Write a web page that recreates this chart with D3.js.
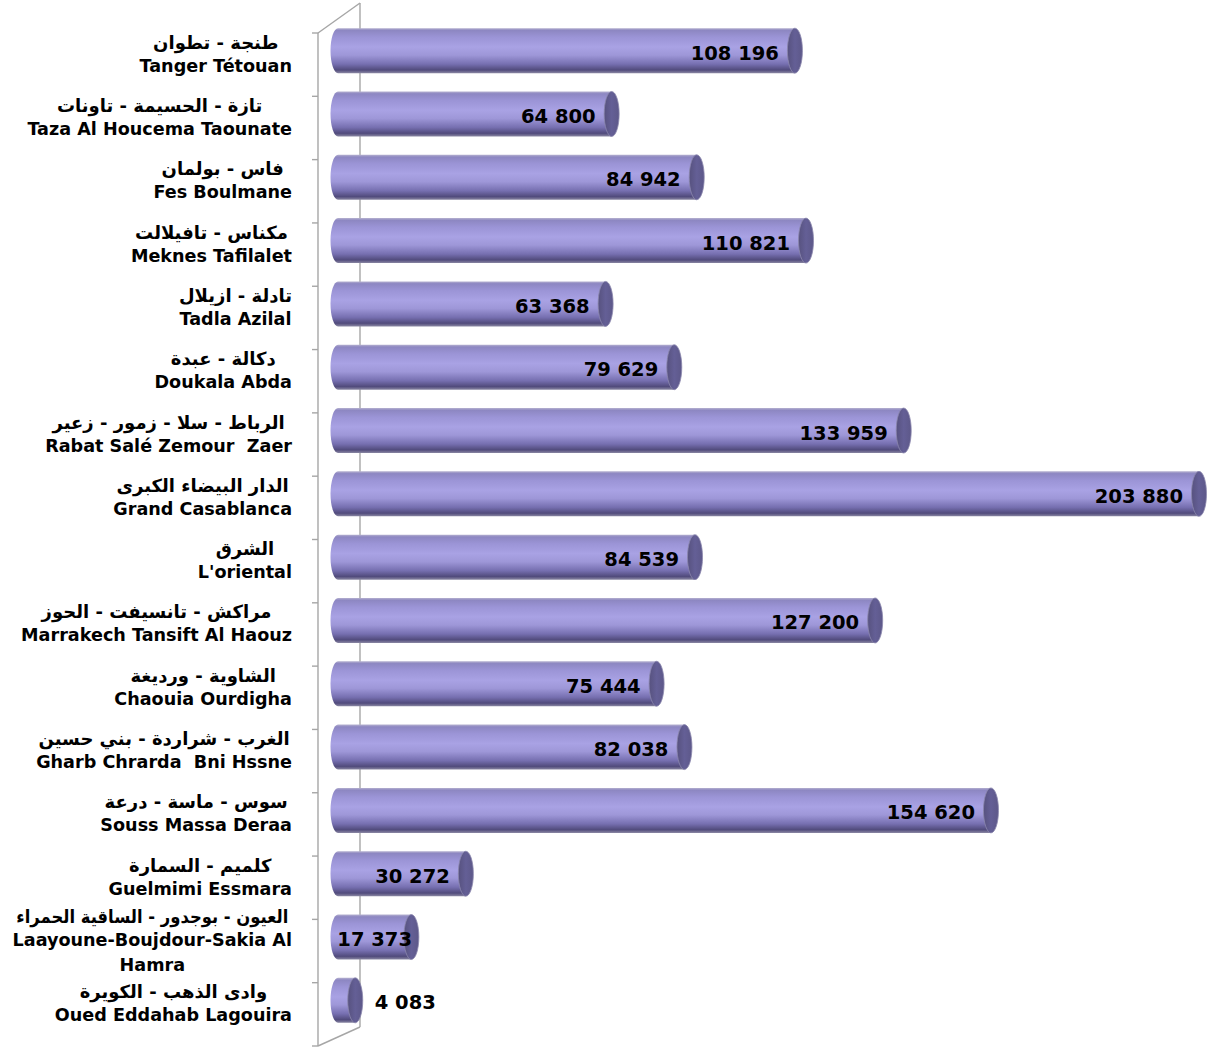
<!DOCTYPE html>
<html>
<head>
<meta charset="utf-8">
<script src="https://cdn.jsdelivr.net/npm/d3@7"></script>
<style>
  html, body { margin: 0; padding: 0; background: #ffffff; }
  svg { display: block; }
  text { white-space: pre; }
</style>
</head>
<body>
<svg id="chart" width="1208" height="1050"></svg>
<script>
const arabicNames = [
  "طنجة - تطوان",
  "تازة - الحسيمة - تاونات",
  "فاس - بولمان",
  "مكناس - تافيلالت",
  "تادلة - ازيلال",
  "دكالة - عبدة",
  "الرباط - سلا - زمور - زعير",
  "الدار البيضاء الكبرى",
  "الشرق",
  "مراكش - تانسيفت - الحوز",
  "الشاوية - ورديغة",
  "الغرب - شراردة - بني حسين",
  "سوس - ماسة - درعة",
  "كلميم - السمارة",
  "العيون - بوجدور - الساقية الحمراء",
  "وادى الذهب - الكويرة"
];
const frenchNames = [
  ["Tanger Tétouan"],
  ["Taza Al Houcema Taounate"],
  ["Fes Boulmane"],
  ["Meknes Tafilalet"],
  ["Tadla Azilal"],
  ["Doukala Abda"],
  ["Rabat Salé Zemour  Zaer"],
  ["Grand Casablanca"],
  ["L'oriental"],
  ["Marrakech Tansift Al Haouz"],
  ["Chaouia Ourdigha"],
  ["Gharb Chrarda  Bni Hssne"],
  ["Souss Massa Deraa"],
  ["Guelmimi Essmara"],
  ["Laayoune-Boujdour-Sakia Al", "Hamra"],
  ["Oued Eddahab Lagouira"]
];
const values = [108196, 64800, 84942, 110821, 63368, 79629, 133959, 203880, 84539, 127200, 75444, 82038, 154620, 30272, 17373, 4083];
const valueLabels = ["108 196", "64 800", "84 942", "110 821", "63 368", "79 629", "133 959", "203 880", "84 539", "127 200", "75 444", "82 038", "154 620", "30 272", "17 373", "4 083"];

const svg = d3.select("#chart");
const idx = d3.range(values.length);

const y = d3.scaleBand().domain(idx).range([33, 1046]).paddingInner(0).paddingOuter(0);
const x = d3.scaleLinear().domain([0, 203880]).range([338, 1199]);
const depthShift = -14; // bars sit deeper in the 3D box, so they appear higher

const defs = svg.append("defs");
const gBody = defs.append("linearGradient").attr("id", "body").attr("x1", 0).attr("y1", 0).attr("x2", 0).attr("y2", 1);
[[0, "#b4b0cf"], [0.05, "#8d87c2"], [0.2, "#9b94d6"], [0.42, "#a9a2e4"], [0.6, "#9e97d8"], [0.8, "#766fb0"], [0.93, "#514b7c"], [1, "#8a87a3"]]
  .forEach(([o, c]) => gBody.append("stop").attr("offset", o).attr("stop-color", c));
const gCap = defs.append("linearGradient").attr("id", "cap").attr("x1", 0).attr("y1", 0).attr("x2", 1).attr("y2", 0);
[[0, "#57527f"], [0.5, "#645f96"], [1, "#5d5889"]]
  .forEach(([o, c]) => gCap.append("stop").attr("offset", o).attr("stop-color", c));

// 3D wall / axis
const wall = svg.append("g").attr("stroke", "#a6a6a6").attr("stroke-width", 1.4).attr("fill", "none");
const yTop = y.range()[0], yBot = y.range()[1];
wall.append("line").attr("x1", 318).attr("y1", yTop).attr("x2", 318).attr("y2", yBot);
wall.append("line").attr("x1", 360).attr("y1", yTop - 30).attr("x2", 360).attr("y2", yBot - 19);
wall.append("line").attr("x1", 318).attr("y1", yTop).attr("x2", 360).attr("y2", yTop - 30);
wall.append("line").attr("x1", 318).attr("y1", yBot).attr("x2", 360).attr("y2", yBot - 19);
const boundaries = idx.map(i => y(i)).concat([yBot]);
wall.selectAll("line.tick").data(boundaries).enter().append("line")
  .attr("class", "tick")
  .attr("x1", 312).attr("x2", 318)
  .attr("y1", d => d).attr("y2", d => d);

// bars
const barH = y.bandwidth() * 0.71;
const ry = barH / 2;
const rx = 7.5;
const bars = svg.append("g");
idx.forEach(i => {
  const cy = y(i) + y.bandwidth() / 2 + depthShift;
  const x0 = x(0), x1 = x(values[i]);
  const top = cy - ry, bot = cy + ry;
  const g = bars.append("g");
  g.append("path")
    .attr("d", `M${x0},${top} L${x1},${top} L${x1},${bot} L${x0},${bot} A${rx},${ry} 0 0 1 ${x0},${top} Z`)
    .attr("fill", "url(#body)");
  g.append("ellipse")
    .attr("cx", x1).attr("cy", cy).attr("rx", rx).attr("ry", ry)
    .attr("fill", "url(#cap)")
    .attr("stroke", "#8c88ad").attr("stroke-width", 0.8);

  const t = g.append("text")
    .attr("y", cy + 9)
    .attr("font-family", "DejaVu Sans")
    .attr("font-weight", "bold")
    .attr("font-size", "19.5px")
    .attr("fill", "#000")
    .text(valueLabels[i]);
  const w = t.node().getComputedTextLength();
  const left = x0 - rx, right = x1 + rx;
  if (x1 - 16 - w >= left + 6) {
    t.attr("x", x1 - 16).attr("text-anchor", "end");
  } else if (w <= right - left) {
    t.attr("x", (left + right) / 2).attr("text-anchor", "middle");
  } else {
    t.attr("x", right + 12).attr("text-anchor", "start");
  }
});

// category labels: lines centred within a block that is right-aligned at the axis
const labels = svg.append("g").attr("font-weight", "bold").attr("fill", "#000");
const labelRight = 292, maxLabelW = 272;
idx.forEach(i => {
  const c = y(i) + y.bandwidth() / 2 + depthShift;
  const nFr = frenchNames[i].length;
  const lh = 25;
  const arY = nFr > 1 ? c - 14 : c - 2;
  const g = labels.append("g");
  const ar = g.append("text")
    .attr("y", arY)
    .attr("text-anchor", "middle")
    .attr("font-family", "DejaVu Sans")
    .attr("font-size", "18px")
    .text(arabicNames[i]);
  let arW = ar.node().getComputedTextLength();
  if (arW > maxLabelW) {
    ar.attr("textLength", maxLabelW).attr("lengthAdjust", "spacingAndGlyphs");
    arW = maxLabelW;
  }
  const frTexts = frenchNames[i].map((s, k) => g.append("text")
    .attr("y", arY + 23 + k * lh)
    .attr("text-anchor", "middle")
    .attr("font-family", "DejaVu Sans")
    .attr("font-size", "17.6px")
    .text(s));
  const blockW = Math.max(arW, ...frTexts.map(t => t.node().getComputedTextLength()));
  const cx = labelRight - blockW / 2;
  ar.attr("x", cx);
  frTexts.forEach(t => t.attr("x", cx));
});
</script>
</body>
</html>
